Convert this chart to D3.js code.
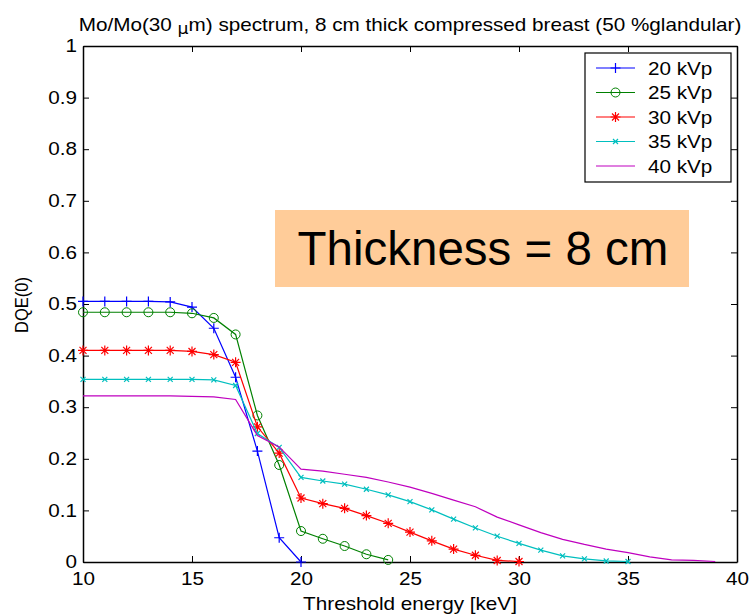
<!DOCTYPE html>
<html>
<head>
<meta charset="utf-8">
<script src="https://cdn.jsdelivr.net/npm/d3@7"></script>
<style>
body { margin: 0; background: #fff; }
text { font-family: "Liberation Sans", Arial, sans-serif; fill: #000; }
</style>
</head>
<body>
<svg width="749" height="614"></svg>
<script>
// DQE(0) per threshold energy, 1 keV steps starting at 10 keV
var kvp20 = [0.505,0.505,0.505,0.505,0.504,0.494,0.453,0.358,0.215,0.047,0.0];
var kvp25 = [0.484,0.484,0.484,0.484,0.484,0.482,0.473,0.441,0.284,0.188,0.060,0.045,0.031,0.015,0.004];
var kvp30 = [0.410,0.410,0.410,0.410,0.410,0.408,0.402,0.387,0.262,0.211,0.124,0.113,0.104,0.090,0.075,0.058,0.041,0.025,0.013,0.003,0.001];
var kvp35 = [0.354,0.354,0.354,0.354,0.354,0.354,0.353,0.342,0.249,0.222,0.164,0.157,0.151,0.141,0.130,0.117,0.101,0.083,0.066,0.050,0.036,0.023,0.012,0.006,0.002,0.001];
var kvp40 = [0.322,0.322,0.322,0.322,0.322,0.321,0.320,0.315,0.245,0.223,0.180,0.176,0.170,0.164,0.155,0.145,0.133,0.120,0.107,0.087,0.072,0.057,0.044,0.034,0.025,0.018,0.010,0.004,0.003,0.001];
var startEnergy = 10;

var seriesNames = ["20 kVp", "25 kVp", "30 kVp", "35 kVp", "40 kVp"];
var seriesValues = [kvp20, kvp25, kvp30, kvp35, kvp40];
var seriesColors = ["#0000ff", "#008000", "#ff0000", "#00bfbf", "#bf00bf"];
var seriesMarkers = ["plus", "circle", "star", "cross", "none"];

var xTicks = [10, 15, 20, 25, 30, 35, 40];
var yTicks = [0, 0.1, 0.2, 0.3, 0.4, 0.5, 0.6, 0.7, 0.8, 0.9, 1];

// plot box ("top" is taken by window.top, so use other names)
var plotLeft = 83, plotRight = 737, plotTop = 46, plotBottom = 562;
var stretch = 1.15; // the original text is a bit wide
var fontSize = "18px";

var svg = d3.select("svg");

var x = d3.scaleLinear().domain([10, 40]).range([plotLeft, plotRight]);
var y = d3.scaleLinear().domain([0, 1]).range([plotBottom, plotTop]);

function markerPath(kind) {
	if (kind == "plus") return "M-5,0H5M0,-5V5";
	if (kind == "cross") return "M-2.5,-2.5L2.5,2.5M-2.5,2.5L2.5,-2.5";
	if (kind == "star") return "M-5,0H5M0,-5V5M-3.5,-3.5L3.5,3.5M-3.5,3.5L3.5,-3.5";
	return null;
}

function drawMarker(g, kind, color, px, py) {
	if (kind == "none") return;
	if (kind == "circle") {
		g.append("circle")
			.attr("cx", px).attr("cy", py).attr("r", 4.5)
			.attr("fill", "none").attr("stroke", color).attr("stroke-width", 1);
		return;
	}
	g.append("path")
		.attr("d", markerPath(kind))
		.attr("transform", "translate(" + px + "," + py + ")")
		.attr("fill", "none").attr("stroke", color).attr("stroke-width", 1.2);
}

// wide text: put it at (px, py) and stretch it sideways
function wideText(g, px, py, str, anchor) {
	return g.append("text")
		.attr("transform", "translate(" + px + "," + py + ") scale(" + stretch + ",1)")
		.attr("text-anchor", anchor || "start")
		.style("font-size", fontSize)
		.text(str);
}

// axes, ticks inward on all four sides
var tickLen = 6;
var axes = svg.append("g");
var xAxis = axes.append("g")
	.attr("transform", "translate(0," + plotBottom + ")")
	.call(d3.axisBottom(x).tickValues(xTicks).tickSizeInner(-tickLen).tickSizeOuter(0).tickPadding(10));
axes.append("g")
	.attr("transform", "translate(0," + plotTop + ")")
	.call(d3.axisTop(x).tickValues(xTicks).tickSizeInner(-tickLen).tickSizeOuter(0).tickFormat(""));
var yAxis = axes.append("g")
	.attr("transform", "translate(" + plotLeft + ",0)")
	.call(d3.axisLeft(y).tickValues(yTicks).tickSizeInner(-tickLen).tickSizeOuter(0).tickPadding(6 / stretch)
		.tickFormat(function(d){ return d3.format("~g")(d); }));
axes.append("g")
	.attr("transform", "translate(" + plotRight + ",0)")
	.call(d3.axisRight(y).tickValues(yTicks).tickSizeInner(-tickLen).tickSizeOuter(0).tickFormat(""));
axes.selectAll("path.domain").attr("stroke", "#000").attr("stroke-width", 1.5);
axes.selectAll(".tick line").attr("stroke", "#000");
axes.selectAll(".tick text")
	.style("font-size", fontSize)
	.attr("font-family", null)
	.attr("fill", "#000")
	.attr("transform", "scale(" + stretch + ",1)");

// annotation box
svg.append("rect")
	.attr("x", 275).attr("y", 210).attr("width", 414).attr("height", 77)
	.attr("fill", "#ffcc99");
svg.append("text")
	.attr("x", 483).attr("y", 265)
	.attr("text-anchor", "middle")
	.style("font-size", "47.5px")
	.text("Thickness = 8 cm");

// curves
var line = d3.line()
	.x(function(d, i){ return x(startEnergy + i); })
	.y(function(d){ return y(d); });

seriesValues.forEach(function(vals, s) {
	var g = svg.append("g");
	g.append("path")
		.datum(vals)
		.attr("d", line)
		.attr("fill", "none")
		.attr("stroke", seriesColors[s])
		.attr("stroke-width", 1.2);
	vals.forEach(function(v, i) {
		drawMarker(g, seriesMarkers[s], seriesColors[s], x(startEnergy + i), y(v));
	});
});

// legend
var legend = svg.append("g");
legend.append("rect")
	.attr("x", 585).attr("y", 53).attr("width", 146).attr("height", 129)
	.attr("fill", "#fff").attr("stroke", "#000").attr("stroke-width", 1.2);
seriesNames.forEach(function(name, s) {
	var ly = 68 + s * 24.5;
	legend.append("line")
		.attr("x1", 596).attr("x2", 635).attr("y1", ly).attr("y2", ly)
		.attr("stroke", seriesColors[s]).attr("stroke-width", 1.2);
	drawMarker(legend, seriesMarkers[s], seriesColors[s], 615.5, ly);
	wideText(legend, 648, ly + 6.5, name);
});

// labels
var title = wideText(svg, 410, 31, "Mo/Mo(30 ", "middle");
title.append("tspan").attr("font-family", "DejaVu Sans").attr("dy", 3).style("font-size", "15px").text("μ");
title.append("tspan").attr("dy", -3).text("m) spectrum, 8 cm thick compressed breast (50 %glandular)");

wideText(svg, (plotLeft + plotRight) / 2, 610, "Threshold energy [keV]", "middle");

svg.append("text")
	.attr("transform", "translate(28," + 305 + ") rotate(-90) scale(1," + stretch + ")")
	.attr("text-anchor", "middle")
	.style("font-size", "16.5px")
	.text("DQE(0)");
</script>
</body>
</html>
